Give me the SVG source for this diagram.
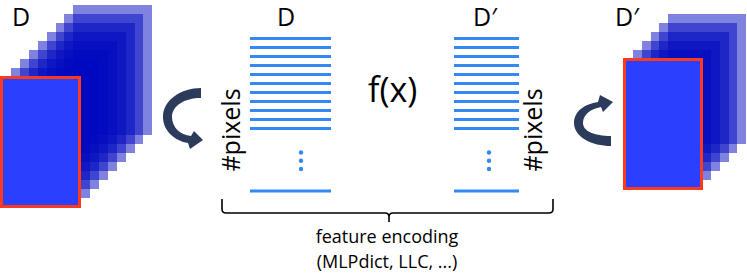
<svg xmlns="http://www.w3.org/2000/svg" width="747" height="274" viewBox="0 0 747 274">
<style>
text{font-family:"Open Sans","Liberation Sans",sans-serif;fill:#000}
.layer{fill:#0008c0;fill-opacity:0.5}
.front{fill:#2b40ff;stroke:#ff3a1c;stroke-width:3}
.feat{stroke:#3388f4;stroke-width:3;fill:none}
.dot{fill:#3388f4}
.arrow{fill:#2c3a5c}
.brace{fill:none;stroke:#000;stroke-width:1.6}
</style>
<g id="stack-left">
<rect class="layer" x="73" y="5" width="79" height="130"/>
<rect class="layer" x="64" y="14" width="79" height="130"/>
<rect class="layer" x="56" y="23" width="79" height="130"/>
<rect class="layer" x="47" y="32" width="79" height="130"/>
<rect class="layer" x="38" y="41" width="79" height="130"/>
<rect class="layer" x="29" y="50" width="79" height="130"/>
<rect class="layer" x="20" y="59" width="79" height="130"/>
<rect class="layer" x="11" y="68" width="79" height="130"/>
<rect class="front" x="1.5" y="77.5" width="78" height="129"/>
<text x="12" y="26" font-size="25">D</text>
</g>
<g id="stack-right">
<rect class="layer" x="668" y="14" width="78" height="130"/>
<rect class="layer" x="659" y="23" width="78" height="130"/>
<rect class="layer" x="651" y="32" width="78" height="130"/>
<rect class="layer" x="642" y="41" width="78" height="130"/>
<rect class="layer" x="633" y="50" width="78" height="130"/>
<rect class="front" x="624.5" y="59.5" width="77" height="129"/>
<text x="615" y="26" font-size="25">D′</text>
</g>
<g id="features-left">
<path class="feat" d="M250 38.5H331M250 47.5H331M250 56.5H331M250 65.5H331M250 74.5H331M250 83.5H331M250 92.5H331M250 101.5H331M250 110.5H331M250 119.5H331M250 128.5H331M250 191H331"/>
<circle class="dot" cx="301" cy="152.5" r="2.2"/>
<circle class="dot" cx="301" cy="160.8" r="2.2"/>
<circle class="dot" cx="301" cy="169" r="2.2"/>
<text x="286" y="26" font-size="25" text-anchor="middle">D</text>
<text transform="translate(240,130) rotate(-90)" font-size="25" text-anchor="middle">#pixels</text>
</g>
<g id="features-right">
<path class="feat" d="M454 38.5H519M454 47.5H519M454 56.5H519M454 65.5H519M454 74.5H519M454 83.5H519M454 92.5H519M454 101.5H519M454 110.5H519M454 119.5H519M454 128.5H519M454 191H519"/>
<circle class="dot" cx="489" cy="152.5" r="2.2"/>
<circle class="dot" cx="489" cy="160.8" r="2.2"/>
<circle class="dot" cx="489" cy="169" r="2.2"/>
<text x="473" y="26" font-size="25">D′</text>
<text transform="translate(542,130) rotate(-90)" font-size="25" text-anchor="middle">#pixels</text>
</g>
<g id="function">
<text x="368" y="102" font-size="34">f(x)</text>
</g>
<g id="connectors">
<path class="arrow" d="M201 88C181 88 163 100 163 117C163 131 175 141 188 143L190 149L203 140L194 131L191 136C180 135 172 127 172 117C172 106 184 98 201 98Z"/>
<path class="arrow" d="M611 146C592 146 574 137 574 123C574 111 585 104 598 102L600 95L613 102L603 112L601 107C590 109 583 115 583 123C583 131 594 136 611 136Z"/>
<path class="brace" d="M222 199V209Q222 213 226 213H385Q389 213 389 217V222M389 217Q389 213 393 213H549Q553 213 553 209V199"/>
</g>
<g id="caption">
<text x="387" y="243" font-size="18" text-anchor="middle">feature encoding</text>
<text x="387" y="268" font-size="18" text-anchor="middle">(MLPdict, LLC, ...)</text>
</g>
</svg>
